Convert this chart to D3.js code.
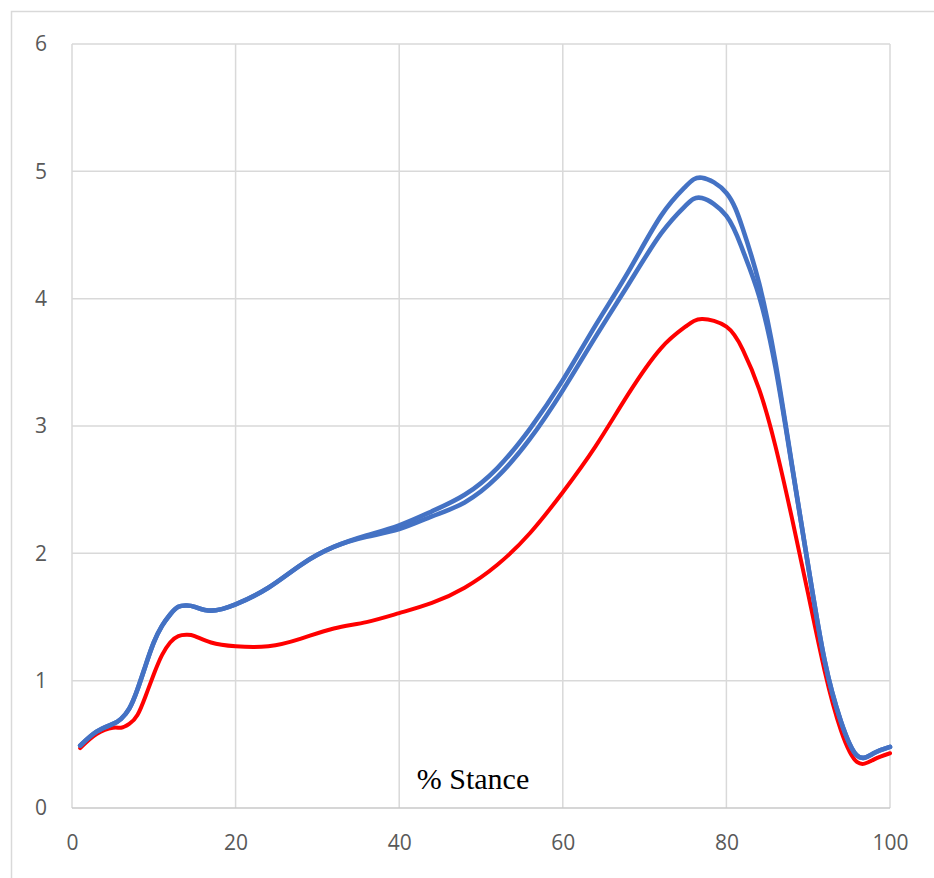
<!DOCTYPE html>
<html>
<head>
<meta charset="utf-8">
<script src="https://cdn.jsdelivr.net/npm/d3@7"></script>
<style>
  body { margin: 0; background: #fff; }
  svg { display: block; }
</style>
</head>
<body>
<div id="chart"></div>
<script>
// % stance samples and the three curves
var stance = [1, 3, 5, 6, 7, 8, 9, 10, 11, 12, 13, 14, 15, 17, 20, 24, 28, 32, 36, 40,
  44, 48, 52, 56, 60, 64, 68, 72, 75, 77, 80, 82, 84, 86, 88, 90, 92, 94, 96, 98, 100];

var blueUpper = [0.49, 0.60, 0.66, 0.70, 0.78, 0.93, 1.12, 1.30, 1.43, 1.52, 1.58, 1.59, 1.58, 1.55, 1.60, 1.73, 1.91, 2.05, 2.14, 2.22,
  2.33, 2.46, 2.67, 2.98, 3.36, 3.79, 4.21, 4.65, 4.88, 4.95, 4.83, 4.55, 4.12, 3.50, 2.70, 1.90, 1.16, 0.68, 0.41, 0.43, 0.48];

var blueLower = [0.49, 0.60, 0.66, 0.70, 0.78, 0.93, 1.12, 1.30, 1.43, 1.52, 1.58, 1.59, 1.58, 1.55, 1.60, 1.73, 1.91, 2.05, 2.13, 2.19,
  2.29, 2.40, 2.60, 2.90, 3.28, 3.70, 4.11, 4.51, 4.73, 4.79, 4.65, 4.38, 4.02, 3.46, 2.69, 1.90, 1.16, 0.68, 0.41, 0.43, 0.48];

var red = [0.47, 0.58, 0.63, 0.63, 0.66, 0.73, 0.88, 1.05, 1.20, 1.30, 1.35, 1.36, 1.35, 1.30, 1.27, 1.27, 1.33, 1.41, 1.46, 1.53,
  1.61, 1.73, 1.91, 2.16, 2.48, 2.84, 3.25, 3.61, 3.78, 3.84, 3.78, 3.60, 3.29, 2.84, 2.28, 1.68, 1.08, 0.61, 0.36, 0.38, 0.43];

var xTicks = [0, 20, 40, 60, 80, 100];
var yTicks = [0, 1, 2, 3, 4, 5, 6];
var xTitle = "% Stance";

var W = 934, H = 878;
var margin = { top: 44, right: 44, bottom: 70, left: 72 };

var svg = d3.select("#chart").append("svg")
  .attr("width", W).attr("height", H);

// outer chart frame (runs off the right and bottom edge)
svg.append("rect")
  .attr("x", 11.5).attr("y", 11.5)
  .attr("width", W + 20).attr("height", H + 20)
  .attr("fill", "none").attr("stroke", "#d9d9d9").attr("stroke-width", 1.5);

var x = d3.scaleLinear().domain([0, 100]).range([margin.left, W - margin.right]);
var y = d3.scaleLinear().domain([0, 6]).range([H - margin.bottom, margin.top]);

var grid = svg.append("g").attr("class", "grid");
grid.selectAll("line.v").data(xTicks).join("line")
  .attr("class", "v")
  .attr("x1", function (d) { return x(d); }).attr("x2", function (d) { return x(d); })
  .attr("y1", y(0)).attr("y2", y(6))
  .attr("stroke", "#d9d9d9").attr("stroke-width", 1.5);
grid.selectAll("line.h").data(yTicks).join("line")
  .attr("class", "h")
  .attr("x1", x(0)).attr("x2", x(100))
  .attr("y1", function (d) { return y(d); }).attr("y2", function (d) { return y(d); })
  .attr("stroke", function (d) { return d === 0 ? "#c8c8c8" : "#d9d9d9"; })
  .attr("stroke-width", 1.5);

// tick labels
var xAxis = svg.append("g")
  .attr("transform", "translate(0," + y(0) + ")")
  .call(d3.axisBottom(x).tickValues(xTicks).tickFormat(d3.format("d")).tickSize(0).tickPadding(27));
var yAxis = svg.append("g")
  .attr("transform", "translate(" + x(0) + ",0)")
  .call(d3.axisLeft(y).tickValues(yTicks).tickFormat(d3.format("d")).tickSize(0).tickPadding(25));

[xAxis, yAxis].forEach(function (g) {
  g.select(".domain").remove();
  g.selectAll("text")
    .attr("fill", "#595959")
    .style("font-family", "'Open Sans', 'DejaVu Sans', sans-serif")
    .style("font-size", "21px");
});

var line = d3.line()
  .x(function (d) { return x(d[0]); })
  .y(function (d) { return y(d[1]); })
  .curve(d3.curveNatural);

function pairs(vals) {
  return stance.map(function (s, i) { return [s, vals[i]]; });
}

var series = [
  { name: "red", values: red, color: "#ff0000", width: 4 },
  { name: "blueLower", values: blueLower, color: "#4472c4", width: 4.6 },
  { name: "blueUpper", values: blueUpper, color: "#4472c4", width: 4.6 }
];

svg.append("g").selectAll("path").data(series).join("path")
  .attr("d", function (d) { return line(pairs(d.values)); })
  .attr("fill", "none")
  .attr("stroke", function (d) { return d.color; })
  .attr("stroke-width", function (d) { return d.width; })
  .attr("stroke-linejoin", "round")
  .attr("stroke-linecap", "round");

// axis title sits inside the plot, above the baseline
svg.append("text")
  .attr("x", 473).attr("y", 789)
  .attr("text-anchor", "middle")
  .style("font-family", "'Liberation Serif', 'Times New Roman', serif")
  .style("font-size", "30px")
  .attr("fill", "#000")
  .text(xTitle);
</script>
</body>
</html>
